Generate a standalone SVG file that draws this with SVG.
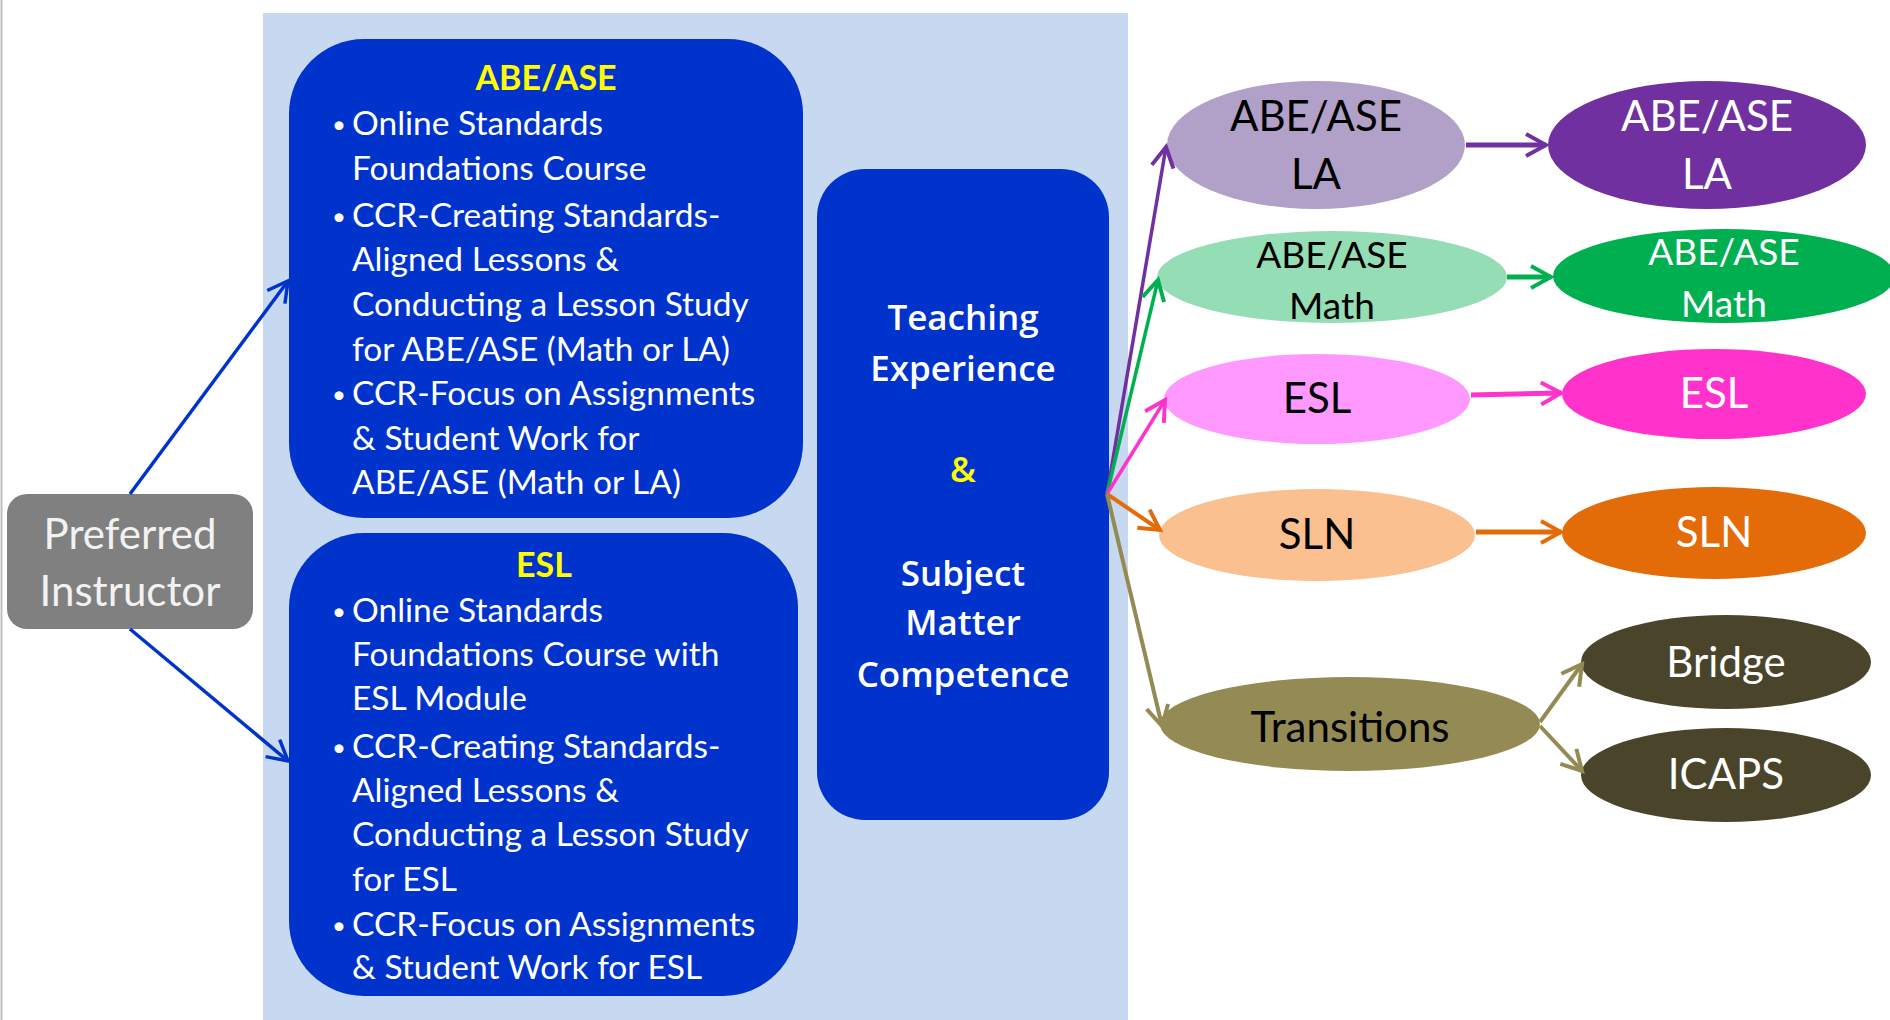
<svg xmlns="http://www.w3.org/2000/svg" width="1890" height="1020" viewBox="0 0 1890 1020">
<style>
.body{font-family:Lato,"Liberation Sans",sans-serif;}
.bx{fill:#0033CC;}
.wt{fill:#FFFFFF;font-size:33.5px;}
.bl{fill:#FFFFFF;font-size:24px;text-anchor:middle;}
.hd{fill:#FFFF00;font-size:34px;font-weight:bold;text-anchor:middle;}
.tc{font-family:"Open Sans","DejaVu Sans",sans-serif;font-weight:600;font-size:35px;fill:#FFFFFF;text-anchor:middle;}
.el{font-size:42px;text-anchor:middle;}
.sm{font-size:37px;}
.dk{fill:#000000;}
.lt{fill:#FFFFFF;}
</style>
<defs>
<marker id="mBlue" markerUnits="userSpaceOnUse" markerWidth="30" markerHeight="30" viewBox="0 0 30 30" refX="26" refY="15" orient="auto"><path d="M6,4 L26,15 L6,26" fill="none" stroke="#0033CC" stroke-width="3.5"/></marker>
<marker id="mPur" markerUnits="userSpaceOnUse" markerWidth="30" markerHeight="30" viewBox="0 0 30 30" refX="26" refY="15" orient="auto"><path d="M6,4 L26,15 L6,26" fill="none" stroke="#7030A0" stroke-width="4"/></marker>
<marker id="mGrn" markerUnits="userSpaceOnUse" markerWidth="30" markerHeight="30" viewBox="0 0 30 30" refX="26" refY="15" orient="auto"><path d="M6,4 L26,15 L6,26" fill="none" stroke="#00B050" stroke-width="4"/></marker>
<marker id="mPnk" markerUnits="userSpaceOnUse" markerWidth="30" markerHeight="30" viewBox="0 0 30 30" refX="26" refY="15" orient="auto"><path d="M6,4 L26,15 L6,26" fill="none" stroke="#FF33CC" stroke-width="4"/></marker>
<marker id="mOrg" markerUnits="userSpaceOnUse" markerWidth="30" markerHeight="30" viewBox="0 0 30 30" refX="26" refY="15" orient="auto"><path d="M6,4 L26,15 L6,26" fill="none" stroke="#E36C09" stroke-width="4"/></marker>
<marker id="mOlv" markerUnits="userSpaceOnUse" markerWidth="30" markerHeight="30" viewBox="0 0 30 30" refX="26" refY="15" orient="auto"><path d="M6,4 L26,15 L6,26" fill="none" stroke="#948A54" stroke-width="4"/></marker>
</defs>
<rect x="0" y="0" width="1890" height="1020" fill="#FFFFFF"/>
<line x1="1.5" y1="0" x2="1.5" y2="1020" stroke="#BFBFBF" stroke-width="2"/>
<rect id="panel" x="263" y="13" width="865" height="1007" fill="#C6D9F1"/>

<g id="preferred" class="body">
<rect x="7" y="494" width="246" height="135" rx="20" fill="#808080"/>
<text x="130" y="549" font-size="42" fill="#F2F2F2" text-anchor="middle">Preferred</text>
<text x="130" y="606" font-size="42" fill="#F2F2F2" text-anchor="middle">Instructor</text>
</g>

<g id="abe-box" class="body">
<rect class="bx" x="289" y="39" width="514" height="479" rx="75"/>
<text class="hd" x="546" y="90">ABE/ASE</text>
<text class="bl" x="339" y="133">•</text><text class="wt" x="352" y="135">Online Standards</text>
<text class="wt" x="352" y="180">Foundations Course</text>
<text class="bl" x="339" y="225">•</text><text class="wt" x="352" y="227">CCR-Creating Standards-</text>
<text class="wt" x="352" y="271">Aligned Lessons &amp;</text>
<text class="wt" x="352" y="316">Conducting a Lesson Study</text>
<text class="wt" x="352" y="361">for ABE/ASE (Math or LA)</text>
<text class="bl" x="339" y="403">•</text><text class="wt" x="352" y="405">CCR-Focus on Assignments</text>
<text class="wt" x="352" y="450">&amp; Student Work for</text>
<text class="wt" x="352" y="494">ABE/ASE (Math or LA)</text>
</g>

<g id="esl-box" class="body">
<rect class="bx" x="289" y="533" width="509" height="463" rx="75"/>
<text class="hd" x="544" y="577">ESL</text>
<text class="bl" x="339" y="620">•</text><text class="wt" x="352" y="622">Online Standards</text>
<text class="wt" x="352" y="666">Foundations Course with</text>
<text class="wt" x="352" y="710">ESL Module</text>
<text class="bl" x="339" y="756">•</text><text class="wt" x="352" y="758">CCR-Creating Standards-</text>
<text class="wt" x="352" y="802">Aligned Lessons &amp;</text>
<text class="wt" x="352" y="846">Conducting a Lesson Study</text>
<text class="wt" x="352" y="891">for ESL</text>
<text class="bl" x="339" y="934">•</text><text class="wt" x="352" y="936">CCR-Focus on Assignments</text>
<text class="wt" x="352" y="979">&amp; Student Work for ESL</text>
</g>

<g id="teaching-box">
<rect class="bx" x="817" y="169" width="292" height="651" rx="48"/>
<text class="tc" x="963" y="330">Teaching</text>
<text class="tc" x="963" y="381">Experience</text>
<text class="tc" x="963" y="482" style="fill:#FFFF00">&amp;</text>
<text class="tc" x="963" y="586">Subject</text>
<text class="tc" x="963" y="635">Matter</text>
<text class="tc" x="963" y="687">Competence</text>
</g>

<g id="la-light" class="body"><ellipse cx="1316" cy="145" rx="149" ry="64" fill="#B1A0C7"/><text class="el dk" x="1316" y="131">ABE/ASE</text><text class="el dk" x="1316" y="189">LA</text></g>
<g id="la-dark" class="body"><ellipse cx="1707" cy="145" rx="159" ry="64" fill="#7030A0"/><text class="el lt" x="1707" y="131">ABE/ASE</text><text class="el lt" x="1707" y="189">LA</text></g>
<g id="math-light" class="body"><ellipse cx="1332" cy="277" rx="175" ry="46" fill="#95DDB4"/><text class="el dk sm" x="1332" y="268">ABE/ASE</text><text class="el dk sm" x="1332" y="319">Math</text></g>
<g id="math-dark" class="body"><ellipse cx="1724" cy="276" rx="171" ry="47" fill="#00B050"/><text class="el lt sm" x="1724" y="265">ABE/ASE</text><text class="el lt sm" x="1724" y="317">Math</text></g>
<g id="esl-light" class="body"><ellipse cx="1317" cy="399" rx="153" ry="45" fill="#FF99FF"/><text class="el dk" x="1317" y="413">ESL</text></g>
<g id="esl-dark" class="body"><ellipse cx="1714" cy="394" rx="152" ry="45" fill="#FF33CC"/><text class="el lt" x="1714" y="408">ESL</text></g>
<g id="sln-light" class="body"><ellipse cx="1317" cy="535" rx="158" ry="46" fill="#FAC090"/><text class="el dk" x="1317" y="549">SLN</text></g>
<g id="sln-dark" class="body"><ellipse cx="1714" cy="533" rx="152" ry="46" fill="#E36C09"/><text class="el lt" x="1714" y="547">SLN</text></g>
<g id="transitions" class="body"><ellipse cx="1350" cy="724" rx="190" ry="47" fill="#948A54"/><text class="el dk" x="1350" y="742" font-size="44">Transitions</text></g>
<g id="bridge" class="body"><ellipse cx="1726" cy="662" rx="145" ry="47" fill="#4A452A"/><text class="el lt" x="1726" y="677">Bridge</text></g>
<g id="icaps" class="body"><ellipse cx="1726" cy="775" rx="145" ry="47" fill="#4A452A"/><text class="el lt" x="1726" y="789">ICAPS</text></g>

<g id="connectors" fill="none">
<line x1="130" y1="494" x2="288" y2="281" stroke="#0033CC" stroke-width="3.5" marker-end="url(#mBlue)"/>
<line x1="130" y1="629" x2="288" y2="761" stroke="#0033CC" stroke-width="3.5" marker-end="url(#mBlue)"/>
<line x1="1107" y1="494" x2="1166" y2="147" stroke="#7030A0" stroke-width="3.5" marker-end="url(#mPur)"/>
<line x1="1107" y1="494" x2="1158" y2="280" stroke="#00B050" stroke-width="3.5" marker-end="url(#mGrn)"/>
<line x1="1107" y1="494" x2="1165" y2="400" stroke="#FF33CC" stroke-width="3.5" marker-end="url(#mPnk)"/>
<line x1="1107" y1="494" x2="1160" y2="530" stroke="#E36C09" stroke-width="4" marker-end="url(#mOrg)"/>
<line x1="1107" y1="494" x2="1162" y2="726" stroke="#948A54" stroke-width="4" marker-end="url(#mOlv)"/>
<line x1="1466" y1="145" x2="1546" y2="145" stroke="#7030A0" stroke-width="5" marker-end="url(#mPur)"/>
<line x1="1507" y1="277" x2="1551" y2="277" stroke="#00B050" stroke-width="5" marker-end="url(#mGrn)"/>
<line x1="1471" y1="395" x2="1561" y2="393" stroke="#FF33CC" stroke-width="5" marker-end="url(#mPnk)"/>
<line x1="1476" y1="532" x2="1561" y2="532" stroke="#E36C09" stroke-width="5" marker-end="url(#mOrg)"/>
<line x1="1540" y1="722" x2="1582" y2="664" stroke="#948A54" stroke-width="4" marker-end="url(#mOlv)"/>
<line x1="1540" y1="726" x2="1582" y2="771" stroke="#948A54" stroke-width="4" marker-end="url(#mOlv)"/>
</g>
</svg>
